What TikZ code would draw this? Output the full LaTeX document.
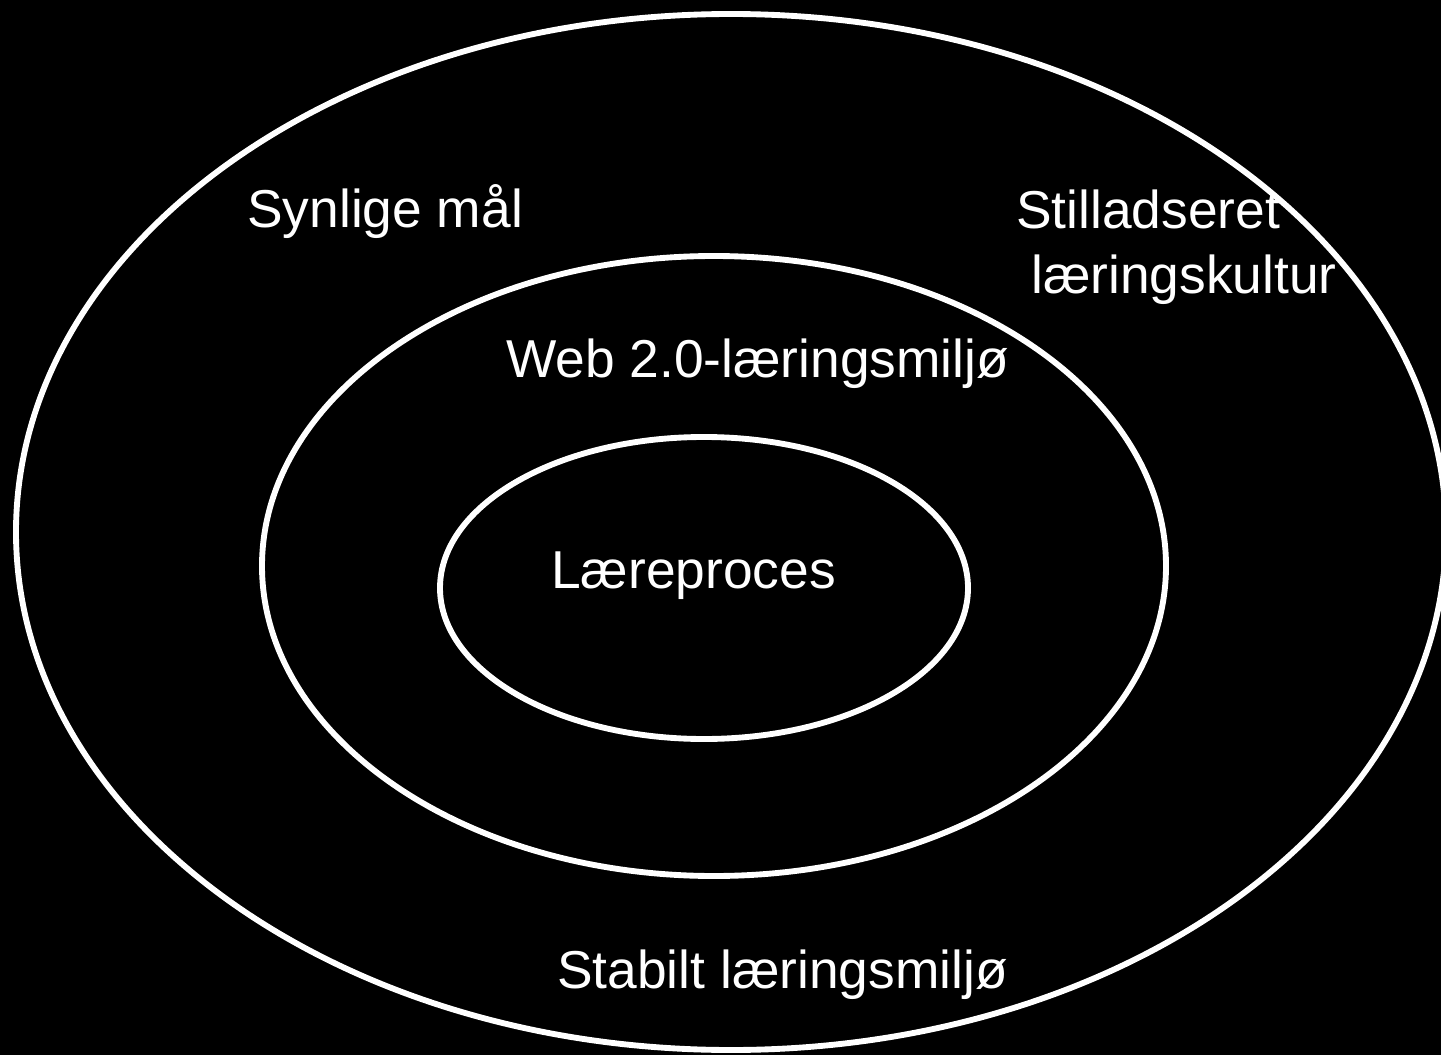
\documentclass[tikz,border=0pt]{standalone}
\usepackage{fontspec}
\setmainfont{Liberation Sans}
\tikzset{
  ring/.style={draw=white, line width=4.4pt},
  label/.style={text=white, anchor=base west, inner sep=0pt, font=\fontsize{40}{48.75}\selectfont}
}
\begin{document}
\begin{tikzpicture}[x=0.75pt, y=-0.75pt]
  \fill[black] (0, 0) rectangle (1441, 1055);
  \useasboundingbox (0, 0) rectangle (1441, 1055);
  \draw[ring] (731, 532) ellipse [x radius=715, y radius=518];
  \draw[ring] (714, 566) ellipse [x radius=452, y radius=310];
  \draw[ring] (704, 588) ellipse [x radius=264, y radius=151];

  \node[label] (goal) at (247, 228) {Synlige mål};
  \node[label, align=left, anchor=north west] (culture) at (1016, 190)
    {Stilladseret\\\hspace*{0.28em}læringskultur};
  \node[label] (web) at (506, 378) {Web 2.0-læringsmiljø};
  \node[label] (process) at (551, 588) {Læreproces};
  \node[label] (stable) at (557, 988) {Stabilt læringsmiljø};
\end{tikzpicture}
\end{document}
